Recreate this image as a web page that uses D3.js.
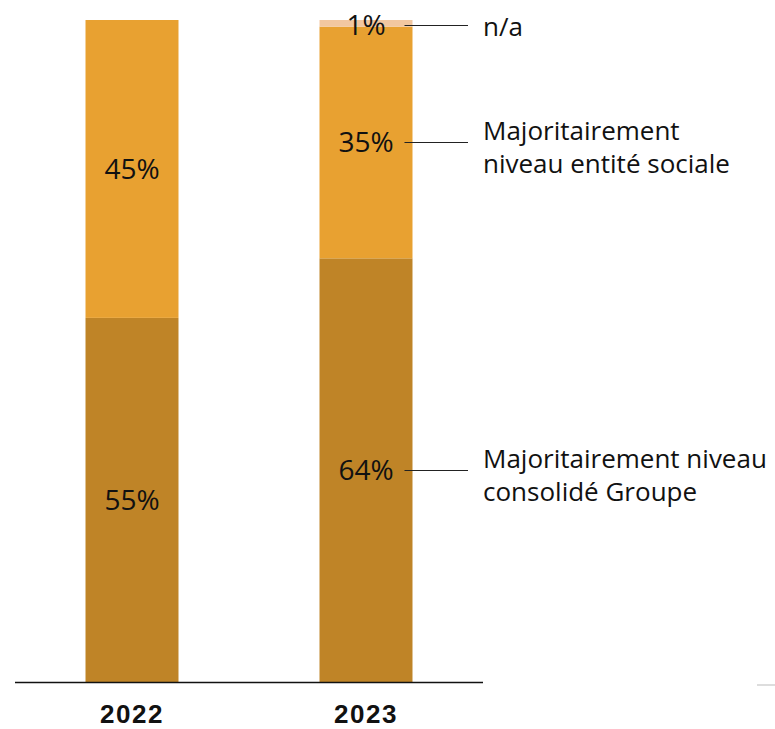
<!DOCTYPE html>
<html><head><meta charset="utf-8">
<script src="https://cdn.jsdelivr.net/npm/d3@7"></script>
<style>body{margin:0;background:#fff}svg{display:block}</style>
</head><body>
<script>
const years = ["2022","2023"];
const seriesNames = ["Majoritairement niveau consolidé Groupe","Majoritairement niveau entité sociale","n/a"];
const groupe = [55,64];
const entite = [45,35];
const na = [0,1];
const legendLines = [["Majoritairement niveau","consolidé Groupe"],["Majoritairement","niveau entité sociale"],["n/a"]];
const colors = ["#BF8427","#E8A131","#F2C7A0"];

const W=775,H=729;
const svg=d3.select("body").append("svg").attr("width",W).attr("height",H);
const font="'Open Sans', 'Liberation Sans', Arial, sans-serif";
const fontBold="'Liberation Sans', Arial, sans-serif";
const x=d3.scaleBand().domain(years).range([15,483]).paddingInner(0.6026).paddingOuter(0.3013);
const y=d3.scaleLinear().domain([0,100]).range([682,20]);
const data=years.map((yr,i)=>({year:yr,s0:groupe[i],s1:entite[i],s2:na[i]}));
const stack=d3.stack().keys(["s0","s1","s2"])(data);

stack.forEach((layer,k)=>{
  svg.selectAll(null).data(layer).enter().append("rect")
    .attr("x",d=>x(d.data.year)).attr("width",x.bandwidth())
    .attr("y",d=>y(d[1])).attr("height",d=>y(d[0])-y(d[1]))
    .attr("fill",colors[k]);
});
// value labels
stack.forEach((layer,k)=>{
  layer.forEach((d,i)=>{
    const v=d[1]-d[0]; if(!v) return;
    let base=(y(d[0])+y(d[1]))/2+10;
    if(k===2) base=y(d[1])+15;
    svg.append("text").attr("x",x(d.data.year)+x.bandwidth()/2).attr("y",base)
      .attr("text-anchor","middle")
      .attr("font-family",font).attr("font-size",28).attr("fill","#111").text(v+"%");
  });
});
// axis
svg.append("line").attr("x1",15).attr("x2",483).attr("y1",682.5).attr("y2",682.5).attr("stroke","#111").attr("stroke-width",1.5);
years.forEach(yr=>{
  svg.append("text").attr("x",x(yr)+x.bandwidth()/2).attr("y",723)
    .attr("text-anchor","middle").attr("font-family",fontBold).attr("font-weight","bold")
    .attr("font-size",26).attr("letter-spacing",1.5).attr("fill","#111").text(yr);
});
// legend leaders
const last=stack.map(l=>l[1]);
last.forEach((d,k)=>{
  let cy=(y(d[0])+y(d[1]))/2;
  if(k===2) cy=y(d[1])+5;
  cy=Math.round(cy)+0.5;
  const x0 = x("2023")+x.bandwidth()-8;
  svg.append("line").attr("x1",x0).attr("x2",468).attr("y1",cy).attr("y2",cy).attr("stroke","#222").attr("stroke-width",1);
  const lines=legendLines[k];
  const lh=33;
  const first = lines.length===1 ? cy+10 : cy-3;
  const t=svg.append("text").attr("font-family",font).attr("font-size",26).attr("fill","#111");
  lines.forEach((ln,j)=>{
    t.append("tspan").attr("x",483).attr("y",first+j*lh).text(ln);
  });
});
svg.append("line").attr("x1",757).attr("x2",775).attr("y1",685).attr("y2",685).attr("stroke","#ddd").attr("stroke-width",2);
</script>
</body></html>
